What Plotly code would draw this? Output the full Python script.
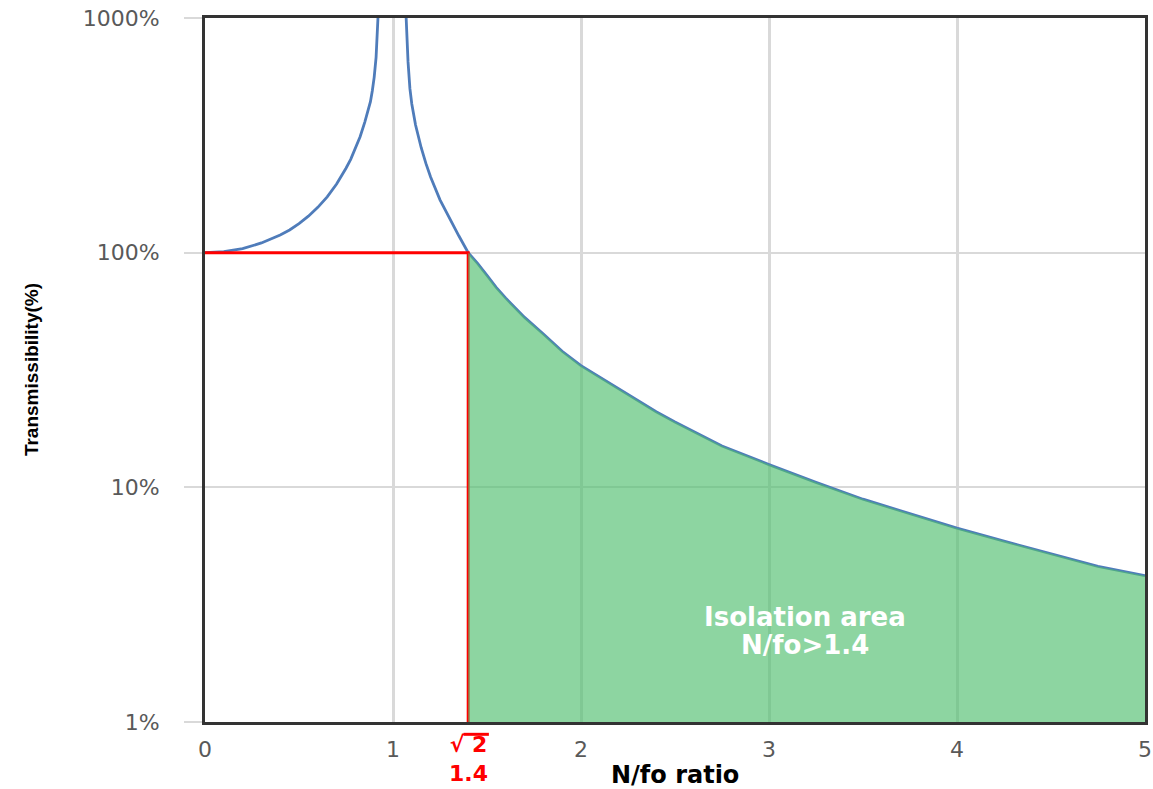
import plotly.graph_objects as go

# Data (N/fo ratio vs transmissibility in %)
x_left = [0.0, 0.1, 0.2, 0.3, 0.4, 0.45, 0.5, 0.55, 0.6, 0.65, 0.7, 0.725, 0.75, 0.775,
          0.8, 0.825, 0.85, 0.865, 0.88, 0.89, 0.9, 0.91, 0.92]
t_left = [100, 101, 104, 110, 119, 125, 133, 143, 156, 173, 196, 211, 229, 250,
          278, 312, 360, 395, 440, 490, 560, 680, 1000]

x_right = [1.07, 1.075, 1.08, 1.09, 1.1, 1.12, 1.15, 1.175, 1.2, 1.25, 1.3, 1.35, 1.4,
           1.45, 1.5, 1.55, 1.6, 1.65, 1.7, 1.8, 1.9, 2.0, 2.1, 2.25, 2.4, 2.5, 2.75,
           3.0, 3.25, 3.5, 3.75, 4.0, 4.25, 4.5, 4.75, 5.0]
t_right = [1000, 800, 650, 500, 430, 350, 280, 240, 210, 168, 140, 118, 100,
           90, 80, 71, 64, 58, 53, 45, 38, 33, 29.5, 25, 21, 19, 15,
           12.5, 10.5, 8.9, 7.7, 6.7, 5.9, 5.2, 4.6, 4.2]

# Isolation threshold (about sqrt 2) and the guide lines
x_iso = 1.4
guide_x = [0, x_iso, x_iso]
guide_y = [100, 100, 1]

x_ticks = [0, 1, 2, 3, 4, 5]
y_ticks = [1, 10, 100, 1000]
y_tick_text = ["1%", "10%", "100%", "1000%"]

# Isolation area polygon built from the right branch
iso_x = [x for x in x_right if x >= x_iso]
iso_y = [t for x, t in zip(x_right, t_right) if x >= x_iso]
poly_x = iso_x + [iso_x[-1], iso_x[0]]
poly_y = iso_y + [1, 1]

blue = "#4F7CBA"
fig = go.Figure()
fig.add_trace(go.Scatter(x=x_left, y=t_left, mode="lines",
                         line=dict(color=blue, width=2.8), showlegend=False))
fig.add_trace(go.Scatter(x=x_right, y=t_right, mode="lines",
                         line=dict(color=blue, width=2.8), showlegend=False))
fig.add_trace(go.Scatter(x=guide_x, y=guide_y, mode="lines",
                         line=dict(color="#FF0000", width=3), showlegend=False))
fig.add_trace(go.Scatter(x=poly_x, y=poly_y, mode="lines", fill="toself",
                         fillcolor="rgba(80,190,110,0.65)",
                         line=dict(width=0, color="rgba(0,0,0,0)"), showlegend=False))

tick_font = dict(family="DejaVu Sans", size=22, color="#595959")

fig.update_xaxes(range=[0, 5], tickvals=x_ticks, ticktext=[str(v) for v in x_ticks],
                 showgrid=True, gridcolor="#D9D9D9", gridwidth=3,
                 showline=True, linecolor="#333333", linewidth=3, mirror=True,
                 ticks="", ticklabelstandoff=6, tickfont=tick_font, zeroline=False,
                 automargin=False, ticklabeloverflow="allow")
fig.update_yaxes(type="log", range=[0, 3], tickvals=y_ticks, ticktext=y_tick_text,
                 showgrid=True, gridcolor="#D9D9D9", gridwidth=2,
                 showline=True, linecolor="#333333", linewidth=3, mirror=True,
                 ticks="outside", ticklen=18, tickcolor="#D9D9D9", tickwidth=2,
                 ticklabelstandoff=20, tickfont=tick_font, zeroline=False,
                 automargin=False, ticklabeloverflow="allow")

common = dict(showarrow=False, xanchor="center", yanchor="middle")
fig.add_annotation(text="<b>Transmissibility(%)</b>", xref="paper", yref="paper",
                   x=-0.185, y=0.5, textangle=-90,
                   font=dict(family="Liberation Sans", size=19, color="#000000"), **common)
fig.add_annotation(text="<b>N/fo ratio</b>", xref="x", yref="paper",
                   x=2.5, y=-0.075,
                   font=dict(family="DejaVu Sans", size=24, color="#000000"), **common)
fig.add_annotation(text="<b>√ 2<br>1.4</b>", xref="x", yref="paper",
                   x=x_iso, y=-0.0525,
                   font=dict(family="DejaVu Sans", size=22, color="#FF0000"), **common)
fig.add_annotation(text="<b>Isolation area</b>", xref="x", yref="paper",
                   x=3.19, y=0.149,
                   font=dict(family="DejaVu Sans", size=26, color="#FFFFFF"), **common)
fig.add_annotation(text="<b>N/fo>1.4</b>", xref="x", yref="paper",
                   x=3.19, y=0.109,
                   font=dict(family="DejaVu Sans", size=26, color="#FFFFFF"), **common)

# overbar of the square-root sign
fig.add_shape(type="line", xref="x", yref="paper", x0=1.375, x1=1.51,
              y0=-0.0175, y1=-0.0175, line=dict(color="#FF0000", width=3))

fig.update_layout(width=1153, height=789, margin=dict(l=205, r=8, t=18, b=67),
                  plot_bgcolor="white", paper_bgcolor="white")

fig.write_html("out.html", config={"displayModeBar": False},
               post_script="document.body.style.margin='0px';")
